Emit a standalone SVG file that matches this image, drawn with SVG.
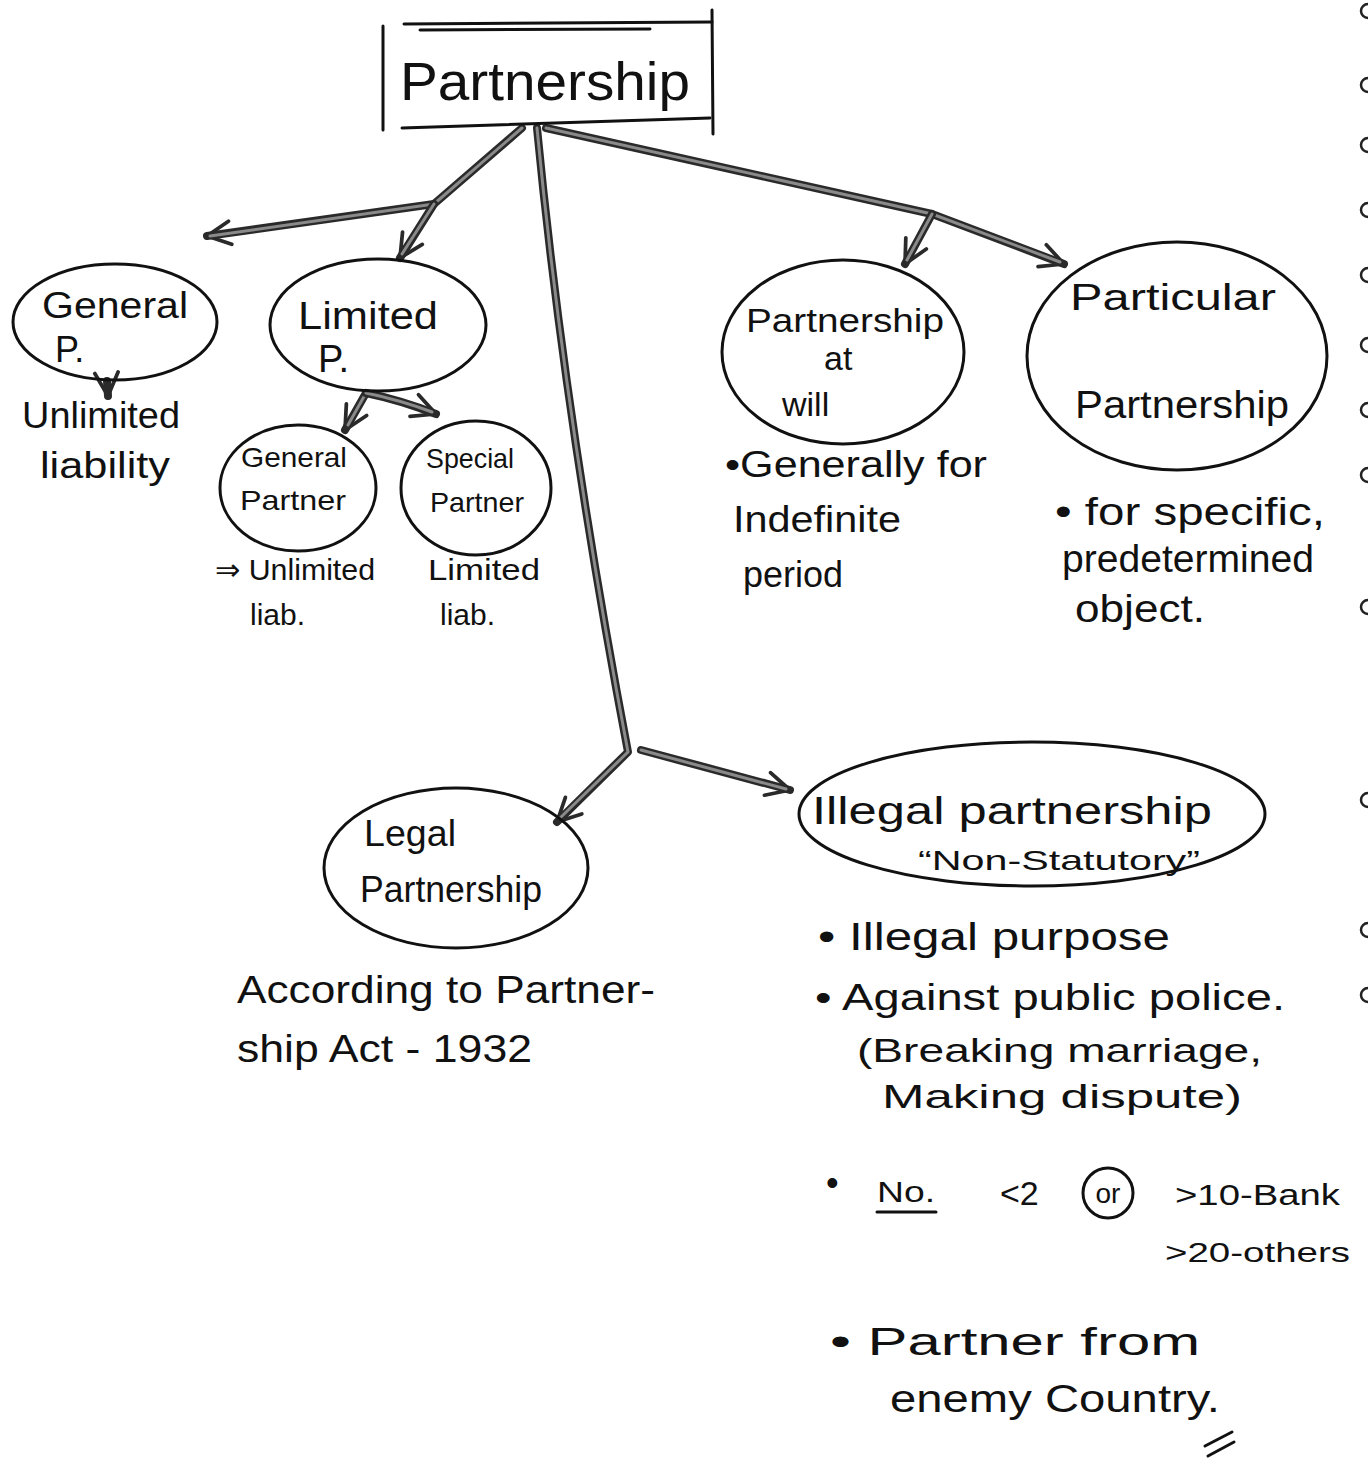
<svg xmlns="http://www.w3.org/2000/svg" width="1372" height="1468" viewBox="0 0 1372 1468">
  <defs>
    <style>
      .t { font-family: "Liberation Sans", "Noto Sans", sans-serif; fill: #111; }
      .node { fill: none; stroke: #111; stroke-width: 3; }
      .wire-out { fill: none; stroke: #2a2a2a; stroke-width: 8; stroke-linecap: round; stroke-linejoin: round; }
      .wire-in { fill: none; stroke: #8a8a8a; stroke-width: 3; stroke-linecap: round; stroke-linejoin: round; }
      .thin { fill: none; stroke: #111; stroke-width: 3; stroke-linecap: round; }
      .hole { fill: none; stroke: #222; stroke-width: 2.5; }
    </style>
    <marker id="head" viewBox="0 0 12 12" refX="11" refY="6" markerWidth="28" markerHeight="28" markerUnits="userSpaceOnUse" orient="auto">
      <path d="M1,1 L11,6 L1,11" fill="none" stroke="#2a2a2a" stroke-width="1.6" stroke-linecap="round" stroke-linejoin="round"/>
    </marker>
  </defs>

  <rect width="1372" height="1468" fill="#fff"/>

  <!-- binder holes along the right edge -->
  <g id="binding">
    <path class="hole" d="M1368,4 A7,7 0 0 0 1368,18"/>
    <path class="hole" d="M1368,78 A7,7 0 0 0 1368,92"/>
    <path class="hole" d="M1368,138 A7,7 0 0 0 1368,152"/>
    <path class="hole" d="M1368,203 A7,7 0 0 0 1368,217"/>
    <path class="hole" d="M1368,268 A7,7 0 0 0 1368,282"/>
    <path class="hole" d="M1368,338 A7,7 0 0 0 1368,352"/>
    <path class="hole" d="M1368,403 A7,7 0 0 0 1368,417"/>
    <path class="hole" d="M1368,468 A7,7 0 0 0 1368,482"/>
    <path class="hole" d="M1368,600 A7,7 0 0 0 1368,614"/>
    <path class="hole" d="M1368,793 A7,7 0 0 0 1368,807"/>
    <path class="hole" d="M1368,923 A7,7 0 0 0 1368,937"/>
    <path class="hole" d="M1368,988 A7,7 0 0 0 1368,1002"/>
  </g>

  <!-- connectors -->
  <g id="connectors">
    <!-- to General P. and Limited P. -->
    <path class="wire-out" d="M522,128 L434,204 L207,236" marker-end="url(#head)"/>
    <path class="wire-in" d="M522,128 L434,204 L210,236"/>
    <path class="wire-out" d="M434,204 L400,258" marker-end="url(#head)"/>
    <path class="wire-in" d="M434,204 L402,254"/>
    <!-- trunk down to Legal / Illegal -->
    <path class="wire-out" d="M537,128 Q565,420 628,752 L557,822" marker-end="url(#head)"/>
    <path class="wire-in" d="M537,128 Q565,420 628,752 L560,818"/>
    <path class="wire-out" d="M641,750 L790,790" marker-end="url(#head)"/>
    <path class="wire-in" d="M641,750 L786,789"/>
    <!-- to Partnership at will and Particular Partnership -->
    <path class="wire-out" d="M546,128 L932,214 L1064,264" marker-end="url(#head)"/>
    <path class="wire-in" d="M546,128 L932,214 L1060,262"/>
    <path class="wire-out" d="M932,214 L905,264" marker-end="url(#head)"/>
    <path class="wire-in" d="M932,214 L907,260"/>
    <!-- General P. to its note -->
    <path class="wire-out" d="M107,381 L108,396" marker-end="url(#head)"/>
    <!-- Limited P. to its two partner kinds -->
    <path class="wire-out" d="M366,393 L345,430" marker-end="url(#head)"/>
    <path class="wire-in" d="M366,393 L348,425"/>
    <path class="wire-out" d="M366,393 Q400,400 436,414" marker-end="url(#head)"/>
    <path class="wire-in" d="M366,393 Q400,400 432,412"/>
  </g>

  <!-- root -->
  <g id="partnership">
    <path d="M383,26 L383,130" class="thin" stroke-width="5"/>
    <path d="M404,24 L712,22" class="thin" stroke-width="6"/>
    <path d="M420,30 L650,29" class="thin" stroke-width="3"/>
    <path d="M712,10 L713,134" class="thin" stroke-width="5"/>
    <path d="M402,128 L710,118" class="thin" stroke-width="7"/>
    <text class="t" x="400" y="100" font-size="54" textLength="290" lengthAdjust="spacingAndGlyphs">Partnership</text>
  </g>

  <g id="general-p">
    <ellipse class="node" cx="115" cy="322" rx="102" ry="58"/>
    <text class="t" x="42" y="318" font-size="36" textLength="146" lengthAdjust="spacingAndGlyphs">General</text>
    <text class="t" x="55" y="362" font-size="36">P.</text>
    <text class="t" x="22" y="428" font-size="36" textLength="158" lengthAdjust="spacingAndGlyphs">Unlimited</text>
    <text class="t" x="40" y="478" font-size="36" textLength="130" lengthAdjust="spacingAndGlyphs">liability</text>
  </g>

  <g id="limited-p">
    <ellipse class="node" cx="378" cy="325" rx="108" ry="66"/>
    <text class="t" x="298" y="329" font-size="38" textLength="140" lengthAdjust="spacingAndGlyphs">Limited</text>
    <text class="t" x="318" y="372" font-size="38">P.</text>
  </g>

  <g id="general-partner">
    <ellipse class="node" cx="298" cy="488" rx="78" ry="63"/>
    <text class="t" x="241" y="467" font-size="28" textLength="106" lengthAdjust="spacingAndGlyphs">General</text>
    <text class="t" x="240" y="510" font-size="28" textLength="106" lengthAdjust="spacingAndGlyphs">Partner</text>
    <text class="t" x="215" y="580" font-size="30" textLength="160" lengthAdjust="spacingAndGlyphs">⇒ Unlimited</text>
    <text class="t" x="250" y="625" font-size="30">liab.</text>
  </g>

  <g id="special-partner">
    <ellipse class="node" cx="476" cy="488" rx="75" ry="67"/>
    <text class="t" x="426" y="468" font-size="28" textLength="88" lengthAdjust="spacingAndGlyphs">Special</text>
    <text class="t" x="430" y="512" font-size="28" textLength="94" lengthAdjust="spacingAndGlyphs">Partner</text>
    <text class="t" x="428" y="580" font-size="30" textLength="112" lengthAdjust="spacingAndGlyphs">Limited</text>
    <text class="t" x="440" y="625" font-size="30">liab.</text>
  </g>

  <g id="partnership-at-will">
    <ellipse class="node" cx="843" cy="352" rx="121" ry="92"/>
    <text class="t" x="746" y="332" font-size="34" textLength="198" lengthAdjust="spacingAndGlyphs">Partnership</text>
    <text class="t" x="824" y="370" font-size="34">at</text>
    <text class="t" x="782" y="416" font-size="34">will</text>
    <text class="t" x="725" y="477" font-size="36" textLength="262" lengthAdjust="spacingAndGlyphs">•Generally for</text>
    <text class="t" x="733" y="532" font-size="36" textLength="168" lengthAdjust="spacingAndGlyphs">Indefinite</text>
    <text class="t" x="743" y="587" font-size="36" textLength="100" lengthAdjust="spacingAndGlyphs">period</text>
  </g>

  <g id="particular-partnership">
    <ellipse class="node" cx="1177" cy="356" rx="150" ry="114"/>
    <text class="t" x="1070" y="310" font-size="36" textLength="206" lengthAdjust="spacingAndGlyphs">Particular</text>
    <text class="t" x="1075" y="418" font-size="38" textLength="214" lengthAdjust="spacingAndGlyphs">Partnership</text>
    <text class="t" x="1055" y="525" font-size="38" textLength="270" lengthAdjust="spacingAndGlyphs">• for specific,</text>
    <text class="t" x="1062" y="572" font-size="38" textLength="252" lengthAdjust="spacingAndGlyphs">predetermined</text>
    <text class="t" x="1075" y="622" font-size="38" textLength="130" lengthAdjust="spacingAndGlyphs">object.</text>
  </g>

  <g id="legal-partnership">
    <ellipse class="node" cx="456" cy="868" rx="132" ry="80"/>
    <text class="t" x="364" y="846" font-size="36" textLength="92" lengthAdjust="spacingAndGlyphs">Legal</text>
    <text class="t" x="360" y="902" font-size="36" textLength="182" lengthAdjust="spacingAndGlyphs">Partnership</text>
    <text class="t" x="237" y="1003" font-size="38" textLength="418" lengthAdjust="spacingAndGlyphs">According to Partner-</text>
    <text class="t" x="237" y="1062" font-size="38" textLength="295" lengthAdjust="spacingAndGlyphs">ship Act - 1932</text>
  </g>

  <g id="illegal-partnership">
    <ellipse class="node" cx="1032" cy="814" rx="233" ry="72"/>
    <text class="t" x="812" y="824" font-size="38" textLength="400" lengthAdjust="spacingAndGlyphs">Illegal partnership</text>
    <text class="t" x="918" y="870" font-size="28" textLength="282" lengthAdjust="spacingAndGlyphs">“Non-Statutory”</text>
    <text class="t" x="818" y="950" font-size="38" textLength="352" lengthAdjust="spacingAndGlyphs">• Illegal purpose</text>
    <text class="t" x="815" y="1010" font-size="36" textLength="470" lengthAdjust="spacingAndGlyphs">• Against public police.</text>
    <text class="t" x="857" y="1062" font-size="34" textLength="405" lengthAdjust="spacingAndGlyphs">(Breaking marriage,</text>
    <text class="t" x="882" y="1108" font-size="34" textLength="360" lengthAdjust="spacingAndGlyphs">Making dispute)</text>
    <text class="t" x="826" y="1195" font-size="36">•</text>
    <text class="t" x="877" y="1202" font-size="30" textLength="58" lengthAdjust="spacingAndGlyphs">No.</text>
    <line class="thin" x1="877" y1="1212" x2="936" y2="1212"/>
    <text class="t" x="1000" y="1205" font-size="34">&lt;2</text>
    <circle class="node" cx="1108" cy="1193" r="25"/>
    <text class="t" x="1108" y="1203" font-size="28" text-anchor="middle">or</text>
    <text class="t" x="1175" y="1205" font-size="30" textLength="165" lengthAdjust="spacingAndGlyphs">&gt;10-Bank</text>
    <text class="t" x="1165" y="1262" font-size="28" textLength="185" lengthAdjust="spacingAndGlyphs">&gt;20-others</text>
    <text class="t" x="830" y="1355" font-size="38" textLength="370" lengthAdjust="spacingAndGlyphs">• Partner from</text>
    <text class="t" x="890" y="1412" font-size="38" textLength="330" lengthAdjust="spacingAndGlyphs">enemy Country.</text>
    <line class="thin" x1="1205" y1="1446" x2="1232" y2="1432" stroke-width="2.5"/>
    <line class="thin" x1="1208" y1="1456" x2="1234" y2="1442" stroke-width="2.5"/>
  </g>
</svg>
